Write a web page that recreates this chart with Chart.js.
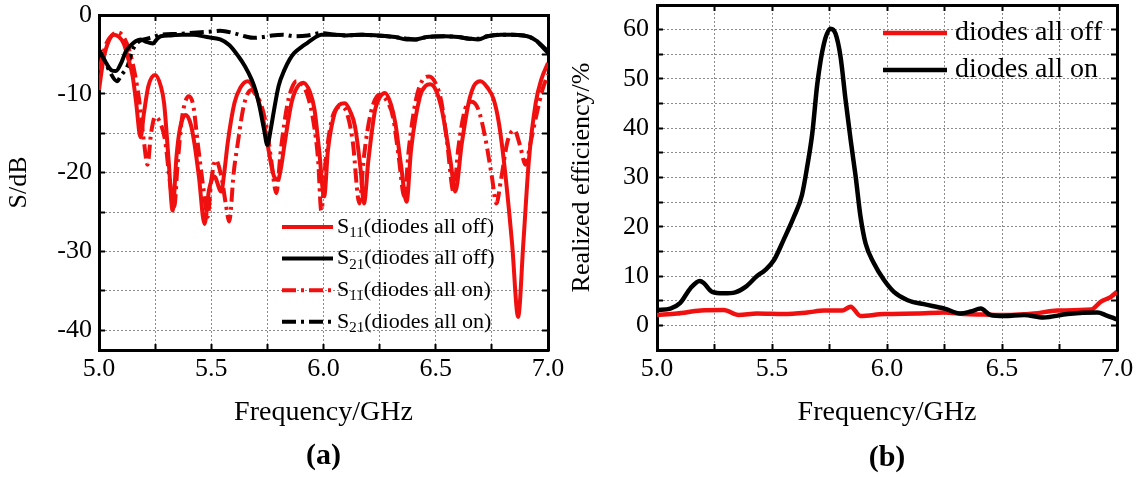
<!DOCTYPE html>
<html>
<head>
<meta charset="utf-8">
<script src="https://cdn.jsdelivr.net/npm/chart.js@4.4.1/dist/chart.umd.min.js"></script>
<style>
  html, body { margin: 0; padding: 0; background: #fff; overflow: hidden; }
  #wrap { position: relative; width: 1138px; height: 477px; }
  #chartA { position: absolute; left: 0; top: 0; }
  #chartB { position: absolute; left: 566px; top: 0; }
</style>
</head>
<body>
<div id="wrap">
  <canvas id="chartA" width="566" height="477"></canvas>
  <canvas id="chartB" width="572" height="477"></canvas>
</div>
<script>
/* Datos */

// ticks compartidos
const freqTicks = [5.0, 5.25, 5.5, 5.75, 6.0, 6.25, 6.5, 6.75, 7.0];
const sTicks = [-40, -35, -30, -25, -20, -15, -10, -5, 0];
const effTicks = [0, 5, 10, 15, 20, 25, 30, 35, 40, 45, 50, 55, 60];

// (a) S11 diodos apagados [GHz, dB]
const s11Off = [
  [5.00, -9.5], [5.02, -5.6], [5.045, -3.2], [5.067, -2.5], [5.09, -2.8],
  [5.11, -3.6], [5.13, -5.5], [5.15, -7.8], [5.165, -11], [5.185, -15.5],
  [5.20, -12.5], [5.22, -9], [5.25, -7.6], [5.275, -9], [5.29, -11.2],
  [5.31, -18.4], [5.328, -24.8], [5.345, -18], [5.36, -14.5], [5.387, -12.7],
  [5.41, -14], [5.425, -16.3], [5.445, -20.5], [5.47, -26.5], [5.49, -22.2],
  [5.514, -20.5], [5.544, -22.4], [5.56, -19.5], [5.573, -16.3], [5.603, -11.2],
  [5.63, -9.2], [5.663, -8.4], [5.69, -9.3], [5.708, -10.7], [5.73, -13],
  [5.75, -16.3], [5.78, -20.5], [5.797, -20.9], [5.81, -19.5], [5.827, -16.3],
  [5.857, -11.2], [5.88, -9.3], [5.91, -8.6], [5.94, -9.8], [5.96, -12],
  [5.98, -17], [6.003, -23], [6.02, -17.1], [6.05, -12.4], [6.07, -11.4],
  [6.095, -11.2], [6.12, -12.3], [6.14, -14.1], [6.165, -19.5], [6.18, -23.9],
  [6.20, -18.4], [6.23, -12], [6.25, -10.5], [6.274, -9.9], [6.30, -11.3],
  [6.32, -13.7], [6.345, -19], [6.37, -23.7], [6.39, -17.1], [6.43, -10.3],
  [6.455, -9.0], [6.475, -8.8], [6.50, -9.5], [6.527, -12], [6.565, -18.4],
  [6.587, -22.4], [6.616, -16.3], [6.646, -11.2], [6.67, -9.0], [6.699, -8.4],
  [6.73, -9.2], [6.758, -10.7], [6.78, -13.5], [6.803, -18.4], [6.84, -29],
  [6.867, -38.3], [6.89, -29], [6.915, -18.4], [6.945, -11.2], [6.97, -8.2],
  [7.00, -6.1]
];

// (a) S21 diodos apagados
const s21Off = [
  [5.00, -4.4], [5.03, -6], [5.055, -7], [5.075, -7.1], [5.10, -6],
  [5.12, -4.6], [5.14, -3.9], [5.165, -3.3], [5.186, -3.1], [5.21, -3.4],
  [5.24, -3.6], [5.26, -3.0], [5.275, -2.7], [5.32, -2.6], [5.37, -2.5],
  [5.42, -2.5], [5.48, -2.8], [5.54, -3.1], [5.58, -3.8], [5.62, -5.2],
  [5.65, -6.5], [5.68, -8.2], [5.70, -9.8], [5.715, -11.6], [5.735, -14.5],
  [5.75, -16.5], [5.765, -14.5], [5.78, -12], [5.80, -9], [5.827, -6.9],
  [5.85, -5.6], [5.87, -4.8], [5.90, -4.1], [5.93, -3.5], [5.96, -2.9],
  [5.99, -2.5], [6.05, -2.5], [6.10, -2.6], [6.17, -2.5], [6.24, -2.6],
  [6.32, -2.8], [6.37, -3.1], [6.41, -3.1], [6.46, -2.8], [6.54, -2.7],
  [6.60, -2.8], [6.65, -3.0], [6.69, -3.1], [6.73, -2.7], [6.79, -2.5],
  [6.84, -2.5], [6.89, -2.6], [6.92, -2.8], [6.95, -3.3], [6.97, -3.9],
  [7.00, -4.8]
];

// (a) S11 diodos encendidos
const s11On = [
  [5.00, -7], [5.03, -3.8], [5.06, -2.5], [5.085, -2.2], [5.11, -2.8],
  [5.135, -4.5], [5.16, -7.5], [5.18, -11], [5.20, -16], [5.216, -19],
  [5.232, -15], [5.25, -12.9], [5.27, -13.5], [5.295, -16], [5.315, -21],
  [5.335, -24.3], [5.35, -19], [5.37, -13], [5.40, -10.3], [5.42, -11.5],
  [5.44, -16.3], [5.465, -22], [5.484, -25.6], [5.50, -21], [5.52, -18.4],
  [5.545, -20.5], [5.565, -24], [5.58, -26.2], [5.60, -20], [5.618, -16.3],
  [5.645, -11.5], [5.678, -9.5], [5.70, -10.2], [5.72, -11.2], [5.745, -14],
  [5.767, -18.4], [5.79, -22.6], [5.81, -17.1], [5.84, -11.2], [5.86, -9.2],
  [5.88, -8.4], [5.905, -8.8], [5.93, -10.3], [5.955, -13.5], [5.976, -18.4],
  [5.99, -24.8], [6.01, -18.4], [6.035, -13.5], [6.06, -11.8], [6.08, -11.6],
  [6.105, -12.5], [6.13, -16], [6.16, -23.9], [6.18, -18], [6.21, -12.5],
  [6.25, -10.1], [6.28, -10.8], [6.31, -13], [6.335, -18], [6.36, -23],
  [6.38, -17], [6.41, -11], [6.44, -8.3], [6.47, -7.8], [6.50, -8.7],
  [6.525, -11], [6.55, -16], [6.58, -22.5], [6.60, -17], [6.63, -12],
  [6.66, -11], [6.69, -12], [6.72, -15.5], [6.75, -20.5], [6.77, -23.9],
  [6.79, -21], [6.82, -16], [6.85, -14.6], [6.875, -16.5], [6.90, -19],
  [6.92, -16.5], [6.95, -12.5], [6.975, -9.5], [7.00, -7.5]
];

// (a) S21 diodos encendidos
const s21On = [
  [5.00, -4.4], [5.025, -5.8], [5.05, -7.3], [5.08, -8.4], [5.10, -7.6],
  [5.127, -6.5], [5.145, -4.8], [5.16, -3.9], [5.18, -3.3], [5.20, -3.1],
  [5.24, -2.8], [5.275, -2.5], [5.35, -2.4], [5.42, -2.25], [5.50, -2.1],
  [5.54, -2.0], [5.60, -2.3], [5.65, -2.7], [5.69, -2.9], [5.73, -2.8],
  [5.77, -2.6], [5.82, -2.5], [5.87, -2.7], [5.93, -2.6], [5.99, -2.3],
  [6.05, -2.5], [6.10, -2.6], [6.17, -2.5], [6.24, -2.6], [6.32, -2.8],
  [6.37, -3.0], [6.41, -3.1], [6.46, -2.8], [6.54, -2.7], [6.60, -2.8],
  [6.65, -3.0], [6.69, -3.0], [6.73, -2.7], [6.79, -2.5], [6.84, -2.5],
  [6.89, -2.6], [6.92, -2.8], [6.95, -3.3], [6.97, -3.8], [7.00, -4.6]
];

// (b) eficiencia realizada [GHz, %]
const effOffFreq = [5.0, 5.087, 5.19, 5.29, 5.355, 5.435, 5.55, 5.653, 5.726, 5.805, 5.842, 5.885,
  5.987, 6.13, 6.25, 6.335, 6.42, 6.51, 6.64, 6.74, 6.887, 6.93, 6.974, 7.0];
const effOff = [2.1, 2.4, 3.0, 3.1, 2.1, 2.4, 2.3, 2.6, 3.0, 3.0, 3.8, 1.9,
  2.3, 2.4, 2.6, 2.3, 2.2, 2.1, 2.4, 3.0, 3.2, 4.8, 5.8, 6.8];
const effOnFreq = [5.0, 5.058, 5.10, 5.145, 5.186, 5.203, 5.24, 5.29, 5.34, 5.385, 5.435, 5.47,
  5.508, 5.55, 5.595, 5.63, 5.653, 5.675, 5.697, 5.726, 5.755, 5.776, 5.798, 5.82, 5.842,
  5.864, 5.885, 5.907, 5.943, 5.987, 6.03, 6.09, 6.16, 6.25, 6.32, 6.364, 6.408, 6.45,
  6.51, 6.596, 6.68, 6.785, 6.916, 6.95, 7.0];
const effOn = [3.1, 3.4, 4.5, 7.5, 9.0, 8.6, 6.8, 6.5, 6.7, 7.8, 10, 11.2,
  13.2, 17.3, 22, 26.4, 32.2, 38.9, 49, 57.2, 60.2, 59.2, 54.5, 45.7, 37.6,
  30.1, 22, 16.6, 12.6, 9.2, 6.8, 5.1, 4.3, 3.4, 2.4, 2.8, 3.4, 2.1,
  1.9, 2.1, 1.6, 2.3, 2.6, 2.1, 1.2];

const FONT = "'Liberation Serif', 'Times New Roman', serif";
const RED = '#f01010';
const BLACK = '#000000';
const DASHDOT = [14, 5, 3, 5];

const fromPairs = (arr) => arr.map(p => ({ x: p[0], y: p[1] }));
const fromArrays = (xs, ys) => xs.map((x, i) => ({ x: x, y: ys[i] }));
const toTicks = (list) => (s) => { s.ticks = list.map(v => ({ value: v })); };

// Leyenda propia (para poder dibujar los subíndices)
const inLegend = {
  id: 'inLegend',
  afterDatasetsDraw(chart, args, opts) {
    const ctx = chart.ctx;
    ctx.save();
    chart.data.datasets.forEach((ds, i) => {
      const y = opts.y + i * opts.rowGap;
      ctx.beginPath();
      ctx.setLineDash(ds.borderDash || []);
      ctx.lineWidth = ds.borderWidth;
      ctx.strokeStyle = ds.borderColor;
      ctx.moveTo(opts.x, y);
      ctx.lineTo(opts.x + opts.lineLen, y);
      ctx.stroke();
      ctx.setLineDash([]);

      ctx.fillStyle = '#000';
      ctx.textBaseline = 'middle';
      ctx.textAlign = 'left';
      let tx = opts.x + opts.lineLen + opts.gap;
      const m = ds.label.match(/^S([\u2080-\u2089]+)(.*)$/);
      if (m) {
        const sub = m[1].split('').map(c => String.fromCharCode(c.charCodeAt(0) - 0x2080 + 48)).join('');
        ctx.font = opts.size + 'px ' + FONT;
        ctx.fillText('S', tx, y);
        tx += ctx.measureText('S').width;
        ctx.font = opts.subSize + 'px ' + FONT;
        ctx.fillText(sub, tx, y + opts.subDrop);
        tx += ctx.measureText(sub).width;
        ctx.font = opts.size + 'px ' + FONT;
        ctx.fillText(m[2], tx, y);
      } else {
        ctx.font = opts.size + 'px ' + FONT;
        ctx.fillText(ds.label, tx, y);
      }
    });
    ctx.restore();
  }
};

function gridOpts() {
  return {
    color: '#8c8c8c',
    lineWidth: 1,
    tickLength: -6,
    tickColor: '#000',
    tickWidth: 2,
    tickBorderDash: []
  };
}
function frameAxis(pos, min, max, ticks) {
  const horiz = pos === 'top';
  return {
    type: 'linear',
    position: pos,
    min: min,
    max: max,
    afterBuildTicks: toTicks(ticks),
    ticks: { display: false },
    grid: { drawOnChartArea: false, drawTicks: true, tickLength: -6, tickColor: '#000', tickWidth: 2 },
    border: { display: true, color: '#000', width: 3 },
    afterFit: (s) => {
      if (horiz) s.height = 0; else s.width = 0;
      s.paddingTop = 0; s.paddingBottom = 0; s.paddingLeft = 0; s.paddingRight = 0;
    }
  };
}

// (a) Parámetros S
new Chart(document.getElementById('chartA'), {
  type: 'line',
  data: {
    datasets: [
      { label: 'S\u2081\u2081(diodes all off)', data: fromPairs(s11Off), borderColor: RED, borderWidth: 4, order: 1 },
      { label: 'S\u2082\u2081(diodes all off)', data: fromPairs(s21Off), borderColor: BLACK, borderWidth: 4, order: 0 },
      { label: 'S\u2081\u2081(diodes all on)', data: fromPairs(s11On), borderColor: RED, borderWidth: 4, borderDash: DASHDOT, order: 3 },
      { label: 'S\u2082\u2081(diodes all on)', data: fromPairs(s21On), borderColor: BLACK, borderWidth: 4, borderDash: DASHDOT, order: 2 }
    ]
  },
  options: {
    responsive: false,
    devicePixelRatio: 1,
    animation: false,
    elements: { point: { radius: 0 }, line: { cubicInterpolationMode: 'monotone', fill: false } },
    layout: { padding: { left: 0, top: 15, right: 18, bottom: 0 } },
    plugins: {
      legend: { display: false },
      tooltip: { enabled: false },
      title: {
        display: true, text: '(a)', position: 'bottom', fullSize: false, color: '#000',
        font: { family: FONT, size: 30, weight: 'bold' }, padding: { top: 0, bottom: 3 }
      },
      inLegend: { x: 282, y: 227, rowGap: 31.6, lineLen: 51, gap: 4, size: 22, subSize: 15, subDrop: 6 }
    },
    scales: {
      x: {
        type: 'linear', position: 'bottom', min: 5, max: 7,
        afterBuildTicks: toTicks(freqTicks),
        ticks: {
          autoSkip: false, maxRotation: 0, padding: 10, color: '#000',
          font: { family: FONT, size: 26 },
          callback: (v) => (Math.abs(v * 2 - Math.round(v * 2)) < 1e-9 ? v.toFixed(1) : '')
        },
        grid: gridOpts(),
        border: { color: '#000', width: 3, dash: [2, 2] },
        title: { display: true, text: 'Frequency/GHz', color: '#000', font: { family: FONT, size: 28 }, padding: { top: 0, bottom: 9 } },
        afterFit: (s) => { s.height = 88; s.paddingLeft = 0; s.paddingRight = 0; }
      },
      y: {
        type: 'linear', position: 'left', min: -42.5, max: 0,
        afterBuildTicks: toTicks(sTicks),
        ticks: {
          autoSkip: false, padding: 13, color: '#000',
          font: { family: FONT, size: 26 },
          callback: (v) => (v % 10 === 0 ? String(v) : '')
        },
        grid: gridOpts(),
        border: { color: '#000', width: 3, dash: [2, 2] },
        title: { display: true, text: 'S/dB', color: '#000', font: { family: FONT, size: 26 }, padding: { top: 4, bottom: 0 } },
        afterFit: (s) => { s.width = 99; s.paddingTop = 0; s.paddingBottom = 0; }
      },
      x2: frameAxis('top', 5, 7, freqTicks),
      y2: frameAxis('right', -42.5, 0, sTicks)
    }
  },
  plugins: [inLegend]
});

// (b) Eficiencia realizada
new Chart(document.getElementById('chartB'), {
  type: 'line',
  data: {
    datasets: [
      { label: 'diodes all off', data: fromArrays(effOffFreq, effOff), borderColor: RED, borderWidth: 4.5, order: 1 },
      { label: 'diodes all on', data: fromArrays(effOnFreq, effOn), borderColor: BLACK, borderWidth: 4.5, order: 0 }
    ]
  },
  options: {
    responsive: false,
    devicePixelRatio: 1,
    animation: false,
    elements: { point: { radius: 0 }, line: { cubicInterpolationMode: 'monotone', fill: false } },
    layout: { padding: { left: 0, top: 5, right: 21, bottom: 0 } },
    plugins: {
      legend: { display: false },
      tooltip: { enabled: false },
      title: {
        display: true, text: '(b)', position: 'bottom', fullSize: false, color: '#000',
        font: { family: FONT, size: 30, weight: 'bold' }, padding: { top: 0, bottom: 1 }
      },
      inLegend: { x: 317, y: 33, rowGap: 37, lineLen: 64, gap: 8, size: 28 }
    },
    scales: {
      x: {
        type: 'linear', position: 'bottom', min: 5, max: 7,
        afterBuildTicks: toTicks(freqTicks),
        ticks: {
          autoSkip: false, maxRotation: 0, padding: 10, color: '#000',
          font: { family: FONT, size: 26 },
          callback: (v) => (Math.abs(v * 2 - Math.round(v * 2)) < 1e-9 ? v.toFixed(1) : '')
        },
        grid: gridOpts(),
        border: { color: '#000', width: 3, dash: [2, 2] },
        title: { display: true, text: 'Frequency/GHz', color: '#000', font: { family: FONT, size: 28 }, padding: { top: 0, bottom: 11 } },
        afterFit: (s) => { s.height = 90; s.paddingLeft = 0; s.paddingRight = 0; }
      },
      y: {
        type: 'linear', position: 'left', min: -5, max: 65,
        afterBuildTicks: toTicks(effTicks),
        ticks: {
          autoSkip: false, padding: 14, color: '#000',
          font: { family: FONT, size: 26 },
          callback: (v) => (v % 10 === 0 ? String(v) : '')
        },
        grid: gridOpts(),
        border: { color: '#000', width: 3, dash: [2, 2] },
        title: { display: true, text: 'Realized efficiency/%', color: '#000', font: { family: FONT, size: 26 }, padding: { top: 1, bottom: 0 } },
        afterFit: (s) => { s.width = 91; s.paddingTop = 0; s.paddingBottom = 0; }
      },
      x2: frameAxis('top', 5, 7, freqTicks),
      y2: frameAxis('right', -5, 65, effTicks)
    }
  },
  plugins: [inLegend]
});
</script>
</body>
</html>
